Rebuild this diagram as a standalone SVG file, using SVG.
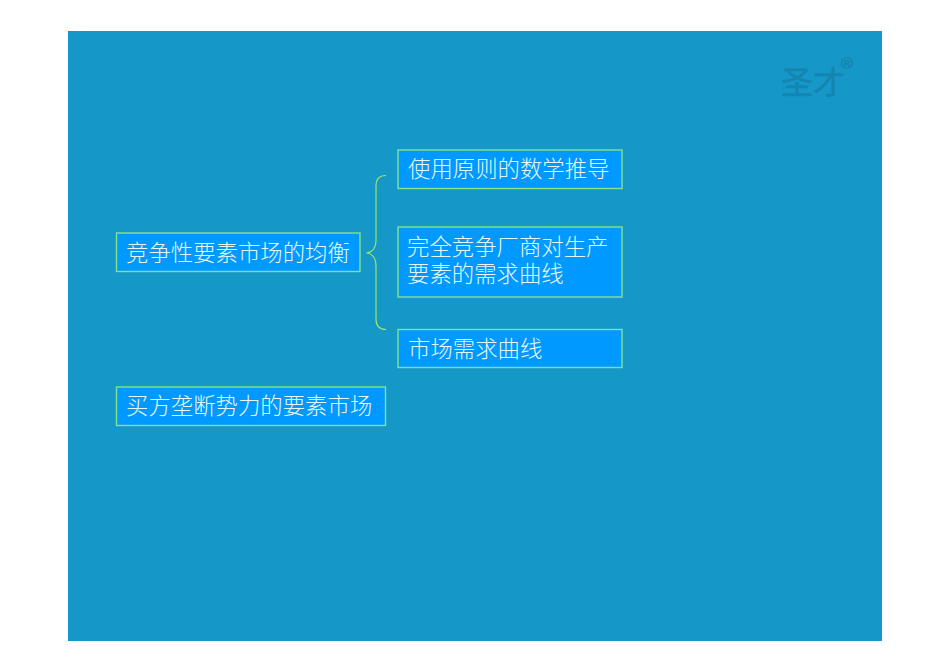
<svg xmlns="http://www.w3.org/2000/svg" width="950" height="672" viewBox="0 0 950 672">
<style>
.box{fill:#0099ff;stroke:#80e48a;stroke-width:1.4}
.t{font-family:"Noto Sans CJK SC","Liberation Sans",sans-serif;font-weight:300;font-size:22.4px;fill:#e6f8ff}
.b{fill:none;stroke:#99e36a;stroke-width:1.2}
.logo{font-family:"Noto Sans CJK SC",sans-serif;font-weight:400;fill:#1484b0;stroke:#1484b0;stroke-width:.4}
</style>
<rect width="950" height="672" fill="#ffffff"/>
<rect x="68" y="31" width="814" height="610" fill="#1598c8"/>
<g id="logo"><text class="logo" x="781" y="94" font-size="32">圣才<tspan font-size="16" font-family="Liberation Sans" dx="-4" dy="-25">®</tspan></text></g>
<g id="connectors"><path class="b" d="M386 175.500C380 175.500 376 178 376 186V240C376 248 372 252.500 366.500 253C372 253.500 376 258 376 266V319C376 327 380 329.500 386 329.500"/></g>
<g id="n1"><rect class="box" x="116.500" y="233" width="243.500" height="38.500"/><text class="t" x="126" y="261">竞争性要素市场的均衡</text></g>
<g id="n2"><rect class="box" x="116.500" y="387" width="269" height="38.500"/><text class="t" x="126" y="414">买方垄断势力的要素市场</text></g>
<g id="n3"><rect class="box" x="398" y="150" width="224" height="38.500"/><text class="t" x="408" y="177">使用原则的数学推导</text></g>
<g id="n4"><rect class="box" x="398" y="227" width="224" height="70"/><text class="t" x="407" y="255">完全竞争厂商对生产<tspan x="407" dy="27">要素的需求曲线</tspan></text></g>
<g id="n5"><rect class="box" x="398" y="329.500" width="224" height="38"/><text class="t" x="408" y="357">市场需求曲线</text></g>
</svg>
